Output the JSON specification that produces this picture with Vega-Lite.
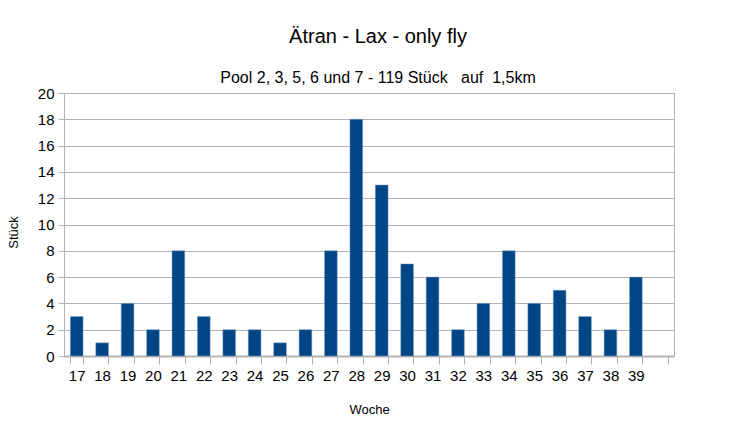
{
  "$schema": "https://vega.github.io/schema/vega-lite/v6.json",
  "autosize": "none",
  "width": 610,
  "height": 263,
  "padding": {"left": 64, "top": 93, "right": 82, "bottom": 82},
  "background": "white",
  "config": {
    "font": "Liberation Sans",
    "view": {"stroke": "#b3b3b3", "strokeWidth": 1}
  },
  "title": {
    "text": "Ätran - Lax - only fly",
    "subtitle": "Pool 2, 3, 5, 6 und 7 - 119 Stück \u00a0 auf \u00a01,5km",
    "anchor": "middle",
    "dx": 9,
    "fontSize": 20,
    "fontWeight": "normal",
    "subtitleFontSize": 16,
    "subtitlePadding": 23,
    "offset": 0,
    "color": "black",
    "subtitleColor": "black",
    "font": "Liberation Sans",
    "subtitleFont": "Liberation Sans"
  },
  "data": {
    "values": [
      {"Woche": "17", "Stück": 3},
      {"Woche": "18", "Stück": 1},
      {"Woche": "19", "Stück": 4},
      {"Woche": "20", "Stück": 2},
      {"Woche": "21", "Stück": 8},
      {"Woche": "22", "Stück": 3},
      {"Woche": "23", "Stück": 2},
      {"Woche": "24", "Stück": 2},
      {"Woche": "25", "Stück": 1},
      {"Woche": "26", "Stück": 2},
      {"Woche": "27", "Stück": 8},
      {"Woche": "28", "Stück": 18},
      {"Woche": "29", "Stück": 13},
      {"Woche": "30", "Stück": 7},
      {"Woche": "31", "Stück": 6},
      {"Woche": "32", "Stück": 2},
      {"Woche": "33", "Stück": 4},
      {"Woche": "34", "Stück": 8},
      {"Woche": "35", "Stück": 4},
      {"Woche": "36", "Stück": 5},
      {"Woche": "37", "Stück": 3},
      {"Woche": "38", "Stück": 2},
      {"Woche": "39", "Stück": 6}
    ]
  },
  "mark": {"type": "bar", "color": "#004586", "stroke": "#7f9fc3", "strokeWidth": 0.5},
  "encoding": {
    "x": {
      "field": "Woche",
      "type": "ordinal",
      "scale": {
        "domain": ["17","18","19","20","21","22","23","24","25","26","27","28","29","30","31","32","33","34","35","36","37","38","39","40"],
        "paddingInner": 0.5,
        "paddingOuter": 0.25
      },
      "axis": {
        "title": "Woche",
        "titleFontSize": 13,
        "titleFontWeight": "normal",
        "titleColor": "black",
        "titlePadding": 20,
        "labelAngle": 0,
        "labelFontSize": 15,
        "labelColor": "black",
        "labelPadding": 4,
        "labelExpr": "datum.value == '40' ? '' : datum.label",
        "tickBand": "extent",
        "tickSize": 8,
        "tickColor": "#b3b3b3",
        "domainColor": "#b3b3b3",
        "domainWidth": 2,
        "grid": false
      }
    },
    "y": {
      "field": "Stück",
      "type": "quantitative",
      "scale": {"domain": [0, 20]},
      "axis": {
        "title": "Stück",
        "titleFontSize": 13,
        "titleFontWeight": "normal",
        "titleColor": "black",
        "titlePadding": 17,
        "titleY": 139,
        "values": [0,2,4,6,8,10,12,14,16,18,20],
        "labelFontSize": 15,
        "labelColor": "black",
        "labelPadding": 4,
        "tickSize": 6,
        "tickColor": "#b3b3b3",
        "domainColor": "#b3b3b3",
        "gridColor": "#b3b3b3",
        "gridOpacity": 1
      }
    }
  }
}
